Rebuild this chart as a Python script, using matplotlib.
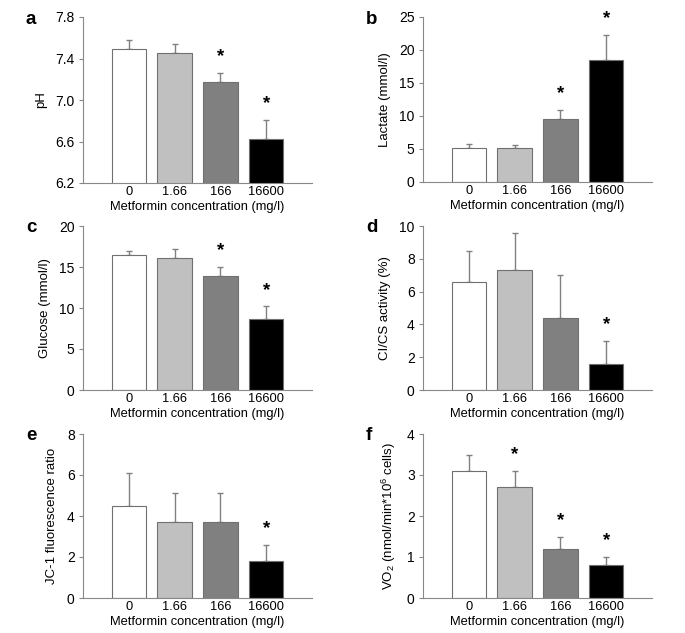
import numpy as np
import matplotlib
matplotlib.use('Agg')
import matplotlib.pyplot as plt

plt.rcParams['font.family'] = ['Liberation Sans', 'DejaVu Sans']
plt.rcParams['mathtext.default'] = 'regular'

# 数据
concs = ['0', '1.66', '166', '16600']
bar_colors = ['white', '#c0c0c0', '#808080', 'black']

ph_mean = [7.49, 7.45, 7.17, 6.62]
ph_err = [0.09, 0.09, 0.09, 0.19]
ph_sig = [False, False, True, True]

lactate_mean = [5.1, 5.1, 9.5, 18.5]
lactate_err = [0.6, 0.5, 1.4, 3.8]
lactate_sig = [False, False, True, True]

glucose_mean = [16.5, 16.1, 13.9, 8.6]
glucose_err = [0.4, 1.1, 1.1, 1.6]
glucose_sig = [False, False, True, True]

cics_mean = [6.6, 7.3, 4.4, 1.6]
cics_err = [1.9, 2.3, 2.6, 1.4]
cics_sig = [False, False, False, True]

jc1_mean = [4.5, 3.7, 3.7, 1.8]
jc1_err = [1.6, 1.4, 1.4, 0.8]
jc1_sig = [False, False, False, True]

vo2_mean = [3.1, 2.7, 1.2, 0.8]
vo2_err = [0.4, 0.4, 0.3, 0.2]
vo2_sig = [False, True, True, True]

panels = [
    ('a', ph_mean, ph_err, ph_sig, 'pH', (6.2, 7.8), [6.2, 6.6, 7.0, 7.4, 7.8], '%.1f'),
    ('b', lactate_mean, lactate_err, lactate_sig, 'Lactate (mmol/l)', (0, 25), [0, 5, 10, 15, 20, 25], '%d'),
    ('c', glucose_mean, glucose_err, glucose_sig, 'Glucose (mmol/l)', (0, 20), [0, 5, 10, 15, 20], '%d'),
    ('d', cics_mean, cics_err, cics_sig, 'CI/CS activity (%)', (0, 10), [0, 2, 4, 6, 8, 10], '%d'),
    ('e', jc1_mean, jc1_err, jc1_sig, 'JC-1 fluorescence ratio', (0, 8), [0, 2, 4, 6, 8], '%d'),
    ('f', vo2_mean, vo2_err, vo2_sig, 'VO$_2$ (nmol/min*10$^6$ cells)', (0, 4), [0, 1, 2, 3, 4], '%d'),
]

W, H = 685, 633
fig = plt.figure(figsize=(W / 100, H / 100), dpi=100)

# 每个子图的位置（像素）：左, 上, 宽, 高
boxes = [
    (83, 17, 229, 166), (423, 17, 229, 165),
    (83, 226, 229, 164), (423, 226, 229, 164),
    (83, 434, 229, 164), (423, 434, 229, 164),
]

spine_color = '#888888'
x = np.arange(4)

for (letter, mean, err, sig, ylabel, ylim, yticks, fmt), (l, t, w, h) in zip(panels, boxes):
    ax = fig.add_axes([l / W, 1 - (t + h) / H, w / W, h / H])
    ax.bar(x, mean, width=0.75, color=bar_colors, edgecolor='#707070', linewidth=0.8, zorder=2)
    ax.errorbar(x, mean, yerr=[np.zeros(4), err], fmt='none', ecolor='#808080',
                elinewidth=1, capsize=2.5, capthick=1, zorder=1)
    for i in range(4):
        if sig[i]:
            ax.annotate('*', xy=(i, mean[i] + err[i]), xytext=(0, 5.5),
                        textcoords='offset points', ha='center', va='bottom',
                        fontsize=13.5, fontweight='bold')
    ax.set_xlim(-1.0, 4.0)
    ax.set_ylim(*ylim)
    ax.set_yticks(yticks)
    ax.set_yticklabels([fmt % v for v in yticks])
    ax.set_xticks(x)
    ax.set_xticklabels(concs)
    ax.tick_params(axis='x', length=0, pad=2.5, labelsize=9.3)
    ax.tick_params(axis='y', length=3, width=0.8, color=spine_color, pad=3, labelsize=10)
    for s in ['top', 'right']:
        ax.spines[s].set_visible(False)
    for s in ['left', 'bottom']:
        ax.spines[s].set_color(spine_color)
        ax.spines[s].set_linewidth(0.8)
    ax.set_xlabel('Metformin concentration (mg/l)', fontsize=9.3, labelpad=2)
    ax.set_ylabel(ylabel, fontsize=9.5, labelpad=6)
    fig.text((l - 57) / W, 1 - (t + 2) / H, letter, fontsize=13.5, fontweight='bold',
             ha='left', va='center')

plt.savefig('out.png', dpi=100)
